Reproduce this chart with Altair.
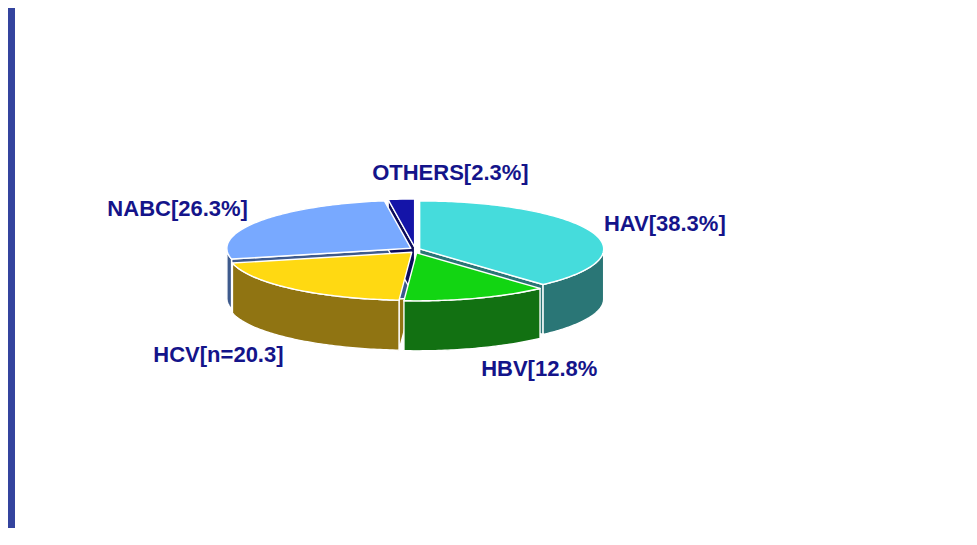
import math
import altair as alt

# ---- data ----
categories = ["HAV", "HBV", "HCV", "NABC", "OTHERS"]
values = [38.3, 12.8, 20.3, 26.3, 2.3]
labels = ["HAV[38.3%]", "HBV[12.8%", "HCV[n=20.3]", "NABC[26.3%]", "OTHERS[2.3%]"]

# ---- styles / layout ----
TOP_COLORS = ["#45dcdc", "#12d512", "#ffd912", "#78a9ff", "#1414a8"]
SIDE_COLORS = ["#2a7676", "#127112", "#907412", "#3e5a8c", "#0c0c5c"]
LABEL_COLOR = "#14148a"
BG_BLUE = "#34449e"
RX, RY, DEPTH, EXPLODE = 184, 48, 50, 5
CENTER = [400, 242]
LABEL_KX, LABEL_KY = 1.1, 1.52
LABEL_NUDGE = {"OTHERS": (50, -4)}
FONT = "Arial, Liberation Sans, sans-serif"
PROJ = dict(type="identity", scale=1, translate=CENTER)


def pt(ox, oy, deg):
    r = math.radians(deg)
    return [ox + RX * math.sin(r), oy - RY * math.cos(r)]


def arc(ox, oy, a0, a1):
    n = max(2, int(abs(a1 - a0)) + 2)
    return [pt(ox, oy, a0 + (a1 - a0) * i / (n - 1)) for i in range(n)]


def feature(coords, part):
    ring = coords + [coords[0]]
    return {"type": "Feature", "properties": {"part": part},
            "geometry": {"type": "Polygon", "coordinates": [ring]}}


total = sum(values)
starts, ends = [], []
acc = 0.0
for v in values:
    starts.append(acc / total * 360)
    acc += v
    ends.append(acc / total * 360)

parts, part_colors = [], []
for cat, tc, sc in zip(categories, TOP_COLORS, SIDE_COLORS):
    parts += [cat + " top", cat + " side"]
    part_colors += [tc, sc]

tops, walls, faces, label_rows = [], [], [], []
for i, cat in enumerate(categories):
    a0, a1 = starts[i], ends[i]
    m = math.radians((a0 + a1) / 2)
    ox, oy = EXPLODE * math.sin(m), -EXPLODE * 0.6 * math.cos(m)
    tops.append(feature([[ox, oy]] + arc(ox, oy, a0, a1), cat + " top"))
    lo, hi = max(a0, 90), min(a1, 270)
    if hi > lo:
        upper = arc(ox, oy, lo, hi)
        lower = [[x, y + DEPTH] for x, y in reversed(upper)]
        walls.append(feature(upper + lower, cat + " side"))
    for ang, sgn in ((a0, -1), (a1, 1)):
        normal = ang + sgn * 90
        if math.cos(math.radians(normal - 180)) > 0.01:
            rim = pt(ox, oy, ang)
            faces.append(feature([[ox, oy], rim, [rim[0], rim[1] + DEPTH],
                                  [ox, oy + DEPTH]], cat + " side"))
    s, c = math.sin(m), math.cos(m)
    lx = RX * LABEL_KX * s
    ly = -RY * LABEL_KY * c + (DEPTH if c < 0 else 0)
    nx, ny = LABEL_NUDGE.get(cat, (0, 0))
    align = "left" if s > 0.2 else ("right" if s < -0.2 else "center")
    label_rows.append({"lon": lx + nx, "lat": ly + ny, "label": labels[i], "align": align})

color = alt.Color("properties.part:N",
                  scale=alt.Scale(domain=parts, range=part_colors), legend=None)

# white slide panel over the blue background
panel = alt.Chart(alt.Data(values=[{}])).mark_rect(color="white").encode(
    x=alt.value(0), x2=alt.value({"expr": "width"}),
    y=alt.value(0), y2=alt.value({"expr": "height"}),
)


def shape_layer(feats):
    return alt.Chart(alt.Data(values=feats)).mark_geoshape(
        stroke="white", strokeWidth=1.4, strokeJoin="round"
    ).encode(color=color).project(**PROJ)


layers = [panel, shape_layer(faces), shape_layer(walls), shape_layer(tops)]
for al in ("left", "right", "center"):
    layers.append(
        alt.Chart(alt.Data(values=label_rows)).transform_filter(
            alt.datum.align == al
        ).mark_text(
            font=FONT, fontSize=22, fontWeight="bold", color=LABEL_COLOR,
            align=al, baseline="middle"
        ).encode(longitude="lon:Q", latitude="lat:Q", text="label:N").project(**PROJ)
    )

chart = alt.layer(*layers).properties(
    width=948, height=520, background=BG_BLUE,
    padding={"left": 7, "top": 0, "right": 0, "bottom": 0},
).configure_view(stroke=None)

chart.save("out.html", embed_options={"renderer": "svg", "actions": False})
